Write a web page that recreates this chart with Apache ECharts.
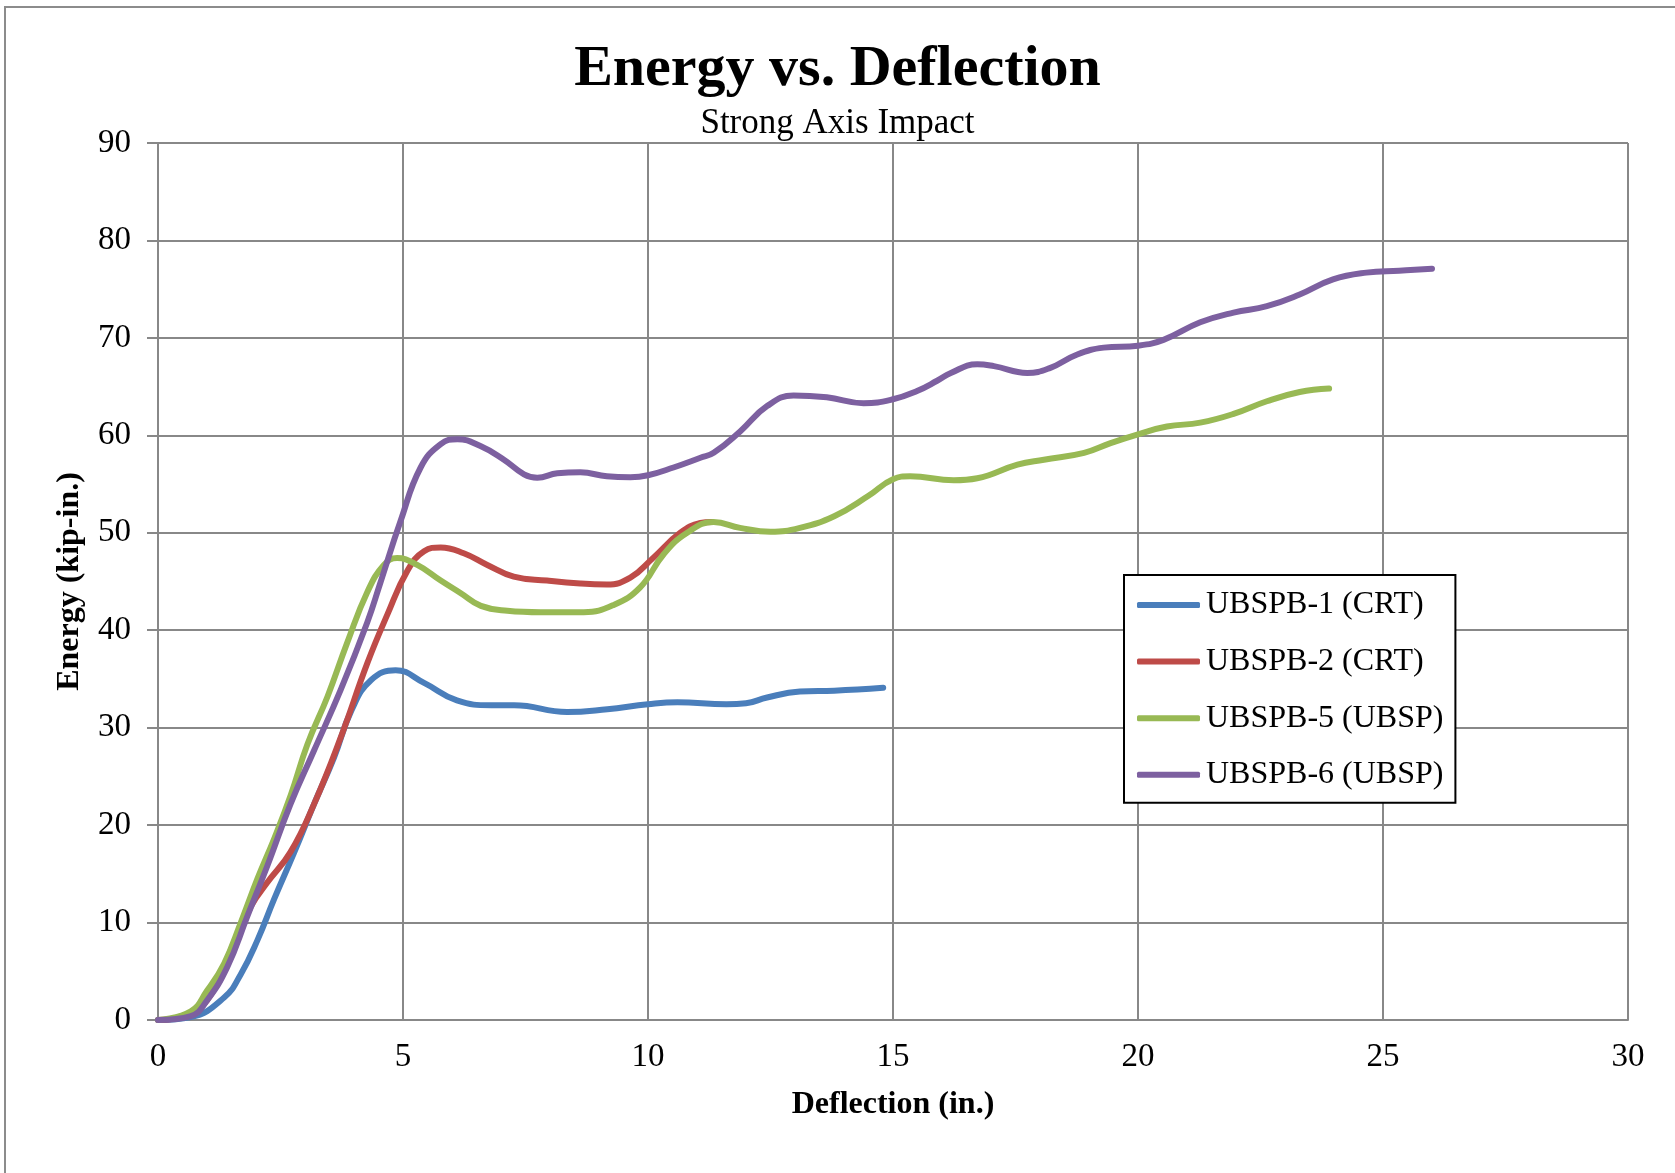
<!DOCTYPE html>
<html>
<head>
<meta charset="utf-8">
<script src="https://cdn.jsdelivr.net/npm/echarts@6/dist/echarts.min.js"></script>
<style>html,body{margin:0;padding:0;background:#fff}#c{width:1675px;height:1173px}</style>
</head>
<body>
<div id="c"></div>
<script>
const seriesNames = ['UBSPB-1 (CRT)', 'UBSPB-2 (CRT)', 'UBSPB-5 (UBSP)', 'UBSPB-6 (UBSP)'];
const seriesColors = ['#4A7EBB', '#BE4B48', '#98B954', '#7D60A0'];

const ubspb1 = [[0,0],[0.67,0.3],[1.35,2.3],[1.69,4.7],[2.03,8.2],[2.37,12.4],[2.78,17.2],[3.18,22.1],[3.59,26.9],[3.95,31.8],[4.35,34.9],[4.85,35.9],[5.43,34.6],[6.1,32.8],[6.8,32.3],[7.27,32.3],[8.35,31.6],[9.17,31.9],[10.0,32.4],[10.6,32.6],[11.6,32.4],[12.0,32.5],[12.43,33.1],[13.1,33.7],[13.8,33.8],[14.8,34.1]];

const ubspb2 = [[0,0],[0.5,0.4],[1.0,2],[1.55,7.9],[1.9,11.7],[2.23,14.1],[2.7,17.2],[3.18,22.1],[3.73,29],[4.27,36.6],[4.68,41.6],[5.09,46.1],[5.43,48.1],[5.77,48.5],[6.24,47.9],[6.72,46.7],[7.26,45.5],[7.94,45.1],[8.62,44.8],[9.16,44.7],[9.64,45.4],[10.1,47.4],[10.66,50],[11.07,51.0],[11.3,51.1]];

const ubspb5 = [[0,0],[0.67,0.9],[1.0,3],[1.35,5.8],[1.69,10],[2.03,14.5],[2.37,18.6],[2.71,23.1],[3.05,28.3],[3.46,33.2],[3.86,38.7],[4.27,43.9],[4.61,46.7],[4.88,47.4],[5.29,46.7],[5.77,45.1],[6.18,43.8],[6.59,42.5],[7.13,42],[7.81,41.85],[8.69,41.85],[9.3,42.6],[9.84,44.4],[10.32,47.8],[10.8,50],[11.34,51.1],[11.88,50.5],[12.5,50.1],[13.1,50.5],[13.8,51.7],[14.5,53.8],[15.0,55.5],[15.35,55.8],[16.24,55.4],[16.72,55.6],[17.54,57.0],[18.08,57.5],[18.9,58.2],[19.44,59.2],[20.0,60.1],[20.59,60.9],[21.27,61.3],[21.95,62.2],[22.63,63.5],[23.3,64.45],[23.9,64.8]];

const ubspb6 = [[0,0],[0.67,0.4],[1.0,2],[1.41,5.4],[1.82,10.6],[2.23,15.8],[2.7,22.1],[3.18,27.6],[3.73,33.9],[4.27,40.8],[4.54,44.9],[4.95,51.2],[5.36,56.7],[5.77,59.1],[6.11,59.6],[6.58,58.9],[7.06,57.5],[7.47,56.0],[7.74,55.65],[8.15,56.1],[8.62,56.2],[9.16,55.8],[9.64,55.7],[10.0,55.9],[10.52,56.7],[11.07,57.7],[11.34,58.2],[11.88,60.4],[12.43,63.0],[12.97,64.1],[13.65,63.9],[14.4,63.3],[15.0,63.7],[15.49,64.55],[15.9,65.6],[16.18,66.4],[16.72,67.3],[17.06,67.1],[17.74,66.4],[18.2,66.9],[18.76,68.3],[19.3,69.0],[20.0,69.2],[20.52,69.8],[21.27,71.6],[21.95,72.6],[22.63,73.25],[23.3,74.45],[23.98,76],[24.66,76.7],[25.33,76.9],[26.0,77.1]];

const seriesData = [ubspb1, ubspb2, ubspb5, ubspb6];

const FONT = '"Liberation Serif", "Times New Roman", serif';
const GRID = '#888888';

const chart = echarts.init(document.getElementById('c'), null, {renderer: 'canvas'});
chart.setOption({
  backgroundColor: '#ffffff',
  animation: false,
  graphic: [{
    type: 'rect', silent: true, z: -10,
    shape: {x: 5, y: 7, width: 1720, height: 1220},
    style: {fill: 'none', stroke: '#8c8c8c', lineWidth: 2}
  }],
  title: [{
    text: 'Energy vs. Deflection', left: 'center', top: 36,
    textStyle: {fontFamily: FONT, fontWeight: 'bold', fontSize: 58, color: '#000'}
  }, {
    text: 'Strong Axis Impact', left: 'center', top: 101,
    textStyle: {fontFamily: FONT, fontWeight: 'normal', fontSize: 35, color: '#000'}
  }],
  grid: {left: 158, right: 47, top: 143, bottom: 153, containLabel: false},
  legend: {
    orient: 'vertical', left: 1124, top: 575,
    data: seriesNames,
    icon: 'roundRect',
    backgroundColor: '#fff', borderColor: '#000', borderWidth: 2,
    padding: [12, 12, 10, 13],
    itemWidth: 63, itemHeight: 6, itemGap: 20.6,
    textStyle: {fontFamily: FONT, fontSize: 32, color: '#000', lineHeight: 36, padding: [0,0,0,1]}
  },
  xAxis: {
    type: 'value', min: 0, max: 30, interval: 5,
    name: 'Deflection (in.)', nameLocation: 'middle', nameGap: 69,
    nameTextStyle: {fontFamily: FONT, fontWeight: 'bold', fontSize: 32, color: '#000'},
    axisLine: {show: true, lineStyle: {color: GRID, width: 2}},
    axisTick: {show: false},
    axisLabel: {fontFamily: FONT, fontSize: 33, color: '#000', margin: 21},
    splitLine: {show: true, lineStyle: {color: GRID, width: 2}}
  },
  yAxis: {
    type: 'value', min: 0, max: 90, interval: 10,
    name: 'Energy (kip-in.)', nameLocation: 'middle', nameGap: 72,
    nameTextStyle: {fontFamily: FONT, fontWeight: 'bold', fontSize: 32, color: '#000'},
    axisLine: {show: true, lineStyle: {color: GRID, width: 2}},
    axisTick: {show: true, inside: false, length: 11, lineStyle: {color: GRID, width: 2}},
    axisLabel: {fontFamily: FONT, fontSize: 33, color: '#000', margin: 27},
    splitLine: {show: true, lineStyle: {color: GRID, width: 2}}
  },
  series: seriesNames.map((n, i) => ({
    name: n, type: 'line', data: seriesData[i],
    smooth: 0.45, symbol: 'none', showSymbol: false,
    color: seriesColors[i],
    itemStyle: {color: seriesColors[i]},
    lineStyle: {width: 6, color: seriesColors[i], cap: 'round', join: 'round'},
    z: 2 + i
  }))
});
</script>
</body>
</html>
